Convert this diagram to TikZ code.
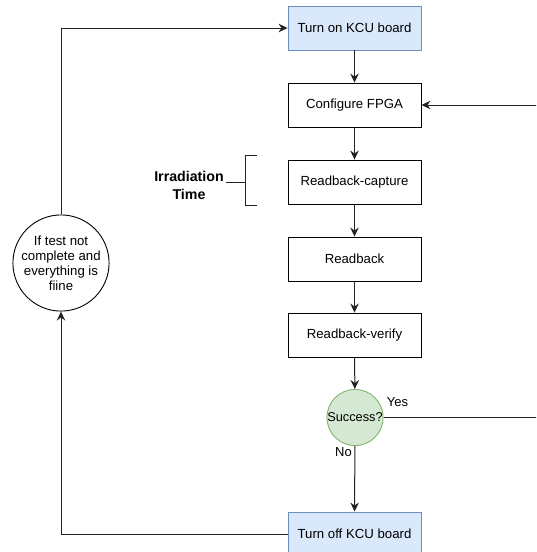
\documentclass[tikz,border=0pt]{standalone}
\usepackage{fontspec}
\setmainfont{Liberation Sans}
\usetikzlibrary{arrows.meta}

\definecolor{bluefill}{HTML}{DAE8FC}
\definecolor{bluedraw}{HTML}{6C8EBF}
\definecolor{greenfill}{HTML}{D5E8D4}
\definecolor{greendraw}{HTML}{82B366}
\definecolor{wire}{HTML}{222222}

\tikzset{
  stepbox/.style={draw=black, line width=0.9pt, minimum width=133pt, minimum height=44pt,
    inner sep=0pt, font=\fontsize{13.2}{15}\selectfont},
  boardbox/.style={stepbox, draw=bluedraw, fill=bluefill},
  decision/.style={circle, draw=greendraw, fill=greenfill, line width=0.9pt,
    minimum size=56pt, inner sep=0pt, font=\fontsize{12.8}{14}\selectfont},
  loopnode/.style={circle, draw=black, line width=0.9pt, minimum size=92pt, inner sep=0pt,
    align=center, font=\fontsize{13.2}{15}\selectfont},
  flow/.style={draw=wire, line width=1pt, -{Stealth[length=9pt,width=8.5pt,inset=3pt]}},
  plain/.style={draw=wire, line width=0.9pt},
  lbl/.style={inner sep=0pt, font=\fontsize{13}{15}\selectfont},
}

\begin{document}
\begin{tikzpicture}[x=1pt, y=-1pt]
\useasboundingbox (0,0) rectangle (536,552);
\clip (0,0) rectangle (536,552);

% main column of steps
\node[boardbox] (on)  at (354.5,28)  {Turn on KCU board};
\node[stepbox]  (cfg) at (354.5,105) {Configure FPGA};
\node[stepbox]  (cap) at (354.5,182) {Readback-capture};
\node[stepbox]  (rb)  at (354.5,259) {Readback};
\node[stepbox]  (ver) at (354.5,335) {Readback-verify};
\node[decision] (succ) at (355,417.5) {Success?};
\node[boardbox] (off) at (354.5,534) {Turn off KCU board};

% loop-back condition
\node[loopnode] (loop) at (61,263) {If test not\\complete and\\everything is\\fiine};

% straight-down flow
\draw[flow] (on) -- (cfg);
\draw[flow] (cfg) -- (cap);
\draw[flow] (cap) -- (rb);
\draw[flow] (rb) -- (ver);
\draw[flow] (ver) -- (succ);
\draw[flow] (succ) -- (off);

% success returns to configuration (runs along the right margin)
\coordinate (rt) at (545,417.5);
\draw[flow] (succ.east) -- (rt) |- (cfg.east);

% power cycle loop on the left
\draw[flow] (off.west) -| (loop.south);
\draw[flow] (loop.north) |- (on.west);

% branch labels
\node[lbl] (yes) at (397.5,402) {Yes};
\node[lbl] (no)  at (343.5,452) {No};

% irradiation time bracket
\coordinate (bt) at (257,155);
\coordinate (bb) at (257,205);
\coordinate (bm) at (245,182);
\coordinate (bs) at (226,182);
\draw[plain] (bt) -- (245,155) -- (245,205) -- (bb);
\draw[plain] (bs) -- (bm);
\node[align=center, inner sep=0pt, font=\bfseries\fontsize{14.2}{18}\selectfont] (irr) at (189,185)
  {Irradiation\\Time};
\end{tikzpicture}
\end{document}
